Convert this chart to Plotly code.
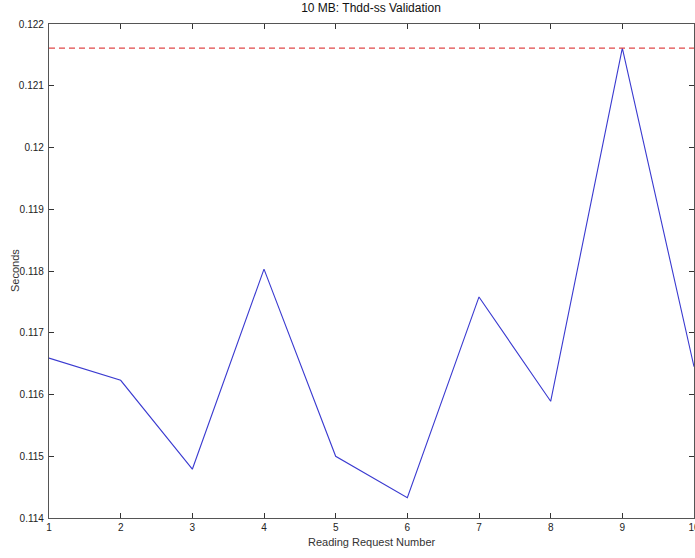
import plotly.graph_objects as go

# Reading request timings (seconds)
request_numbers = [1, 2, 3, 4, 5, 6, 7, 8, 9, 10]
seconds = [0.11659, 0.11623, 0.11479, 0.11803, 0.11500, 0.11433, 0.11758, 0.11589, 0.12161, 0.11645]
threshold = 0.12161

y_tick_vals = [0.114, 0.115, 0.116, 0.117, 0.118, 0.119, 0.120, 0.121, 0.122]
y_tick_text = ["0.114", "0.115", "0.116", "0.117", "0.118", "0.119", "0.12", "0.121", "0.122"]

FONT = "Liberation Sans, Arial, sans-serif"

fig = go.Figure()

fig.add_trace(go.Scatter(
    x=request_numbers, y=seconds, mode="lines",
    line=dict(color="#3a3ad0", width=1.1),
    showlegend=False, hoverinfo="skip",
))

fig.add_trace(go.Scatter(
    x=[request_numbers[0], request_numbers[-1]], y=[threshold, threshold], mode="lines",
    line=dict(color="#e04848", width=1.3, dash="6px,4px"),
    showlegend=False, hoverinfo="skip",
))

axis_common = dict(
    showgrid=False, zeroline=False,
    showline=True, linecolor="#555555", linewidth=1.2,
    mirror="ticks", ticks="inside", ticklen=5, tickcolor="#333333", tickwidth=1,
    tickfont=dict(family=FONT, size=10, color="#222222"),
    automargin=False, ticklabeloverflow="allow",
)

fig.update_xaxes(range=[1, 10], tickvals=request_numbers, ticktext=[str(v) for v in request_numbers], **axis_common)
fig.update_yaxes(range=[0.114, 0.122], tickvals=y_tick_vals, ticktext=y_tick_text, ticklabelstandoff=2, **axis_common)

fig.update_layout(
    width=695, height=558,
    margin=dict(l=49, r=1, t=24, b=40),
    paper_bgcolor="white", plot_bgcolor="white",
    title=dict(text="10 MB: Thdd-ss Validation", x=371 / 695, xanchor="center",
               yref="container", y=1 - 8 / 558, yanchor="middle",
               font=dict(family=FONT, size=12, color="#111111")),
    annotations=[
        dict(text="Reading Request Number", xref="paper", yref="paper",
             x=0.5, y=-24 / 494, xanchor="center", yanchor="middle", showarrow=False,
             font=dict(family=FONT, size=11, color="#333333")),
        dict(text="Seconds", xref="paper", yref="paper", textangle=-90,
             x=-34 / 645, y=0.5, xanchor="center", yanchor="middle", showarrow=False,
             font=dict(family=FONT, size=11, color="#333333")),
    ],
)

fig.write_html("out.html")
